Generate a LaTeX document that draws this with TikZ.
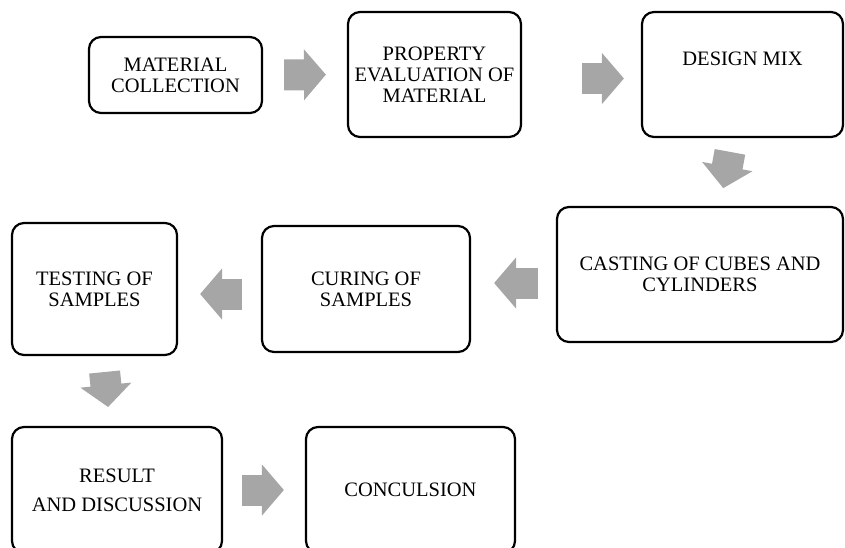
\documentclass[tikz,border=0pt]{standalone}
\usepackage{fontspec}
\setmainfont{Liberation Serif}
\usepackage{tikz}
\usetikzlibrary{calc,arrows.meta,positioning}

\definecolor{flowgray}{RGB}{166,166,166}
\tikzset{
	box/.style={draw, line width=2.2pt, rounded corners=12pt, align=center, inner sep=0pt, font=\fontsize{20.5}{21}\selectfont},
	txt/.style={align=center, inner sep=0pt, font=\fontsize{20.5}{21}\selectfont},
	flow/.style={line width=31pt, color=flowgray, -{Triangle[length=22pt,width=50pt]}}
}

\begin{document}
\begin{tikzpicture}[x=1pt,y=-1pt]
	\useasboundingbox (0,0) rectangle (845,547);
	\clip (0,0) rectangle (845,547);
	
	% top row
	\node (mat) at (175.5,75) [box, minimum width=173pt, minimum height=76pt] {MATERIAL\\COLLECTION};
	\node (prop) at (434.5,74.5) [box, minimum width=173pt, minimum height=125pt] {PROPERTY\\EVALUATION OF\\MATERIAL};
	\node (design) at (742.5,74.5) [box, minimum width=201pt, minimum height=125pt] {};
	\node (designtxt) at (design.center) [txt, yshift=15.5pt] {DESIGN MIX};
	
	% middle row
	\node (casting) at (700,274.5) [box, minimum width=286pt, minimum height=135pt] {CASTING OF CUBES AND\\CYLINDERS};
	\node (curing) at (366,289) [box, minimum width=208pt, minimum height=126pt] {CURING OF\\SAMPLES};
	\node (testing) at (94.5,289) [box, minimum width=165pt, minimum height=132pt] {TESTING OF\\SAMPLES};
	
	% bottom row
	\node (result) at (117,490) [box, minimum width=210pt, minimum height=126pt] {RESULT\\[8pt]AND DISCUSSION};
	\node (concl) at (410.5,490) [box, minimum width=209pt, minimum height=126pt] {CONCULSION};
	
	
	\draw[flow, shorten <=21pt, shorten >=21pt] (mat.east) -- (prop.west);
	\draw[flow, shorten <=60pt, shorten >=17pt] ([yshift=-4pt]prop.east) -- ([yshift=-4pt]design.west);
	\draw[flow, shorten <=14pt, shorten >=18pt] ([xshift=-10pt]design.south) -- ([xshift=20pt]casting.north);
	\draw[flow, shorten <=18pt, shorten >=23pt] ([yshift=-8.5pt]casting.west) -- ([yshift=6pt]curing.east);
	\draw[flow, shorten <=19pt, shorten >=22pt] ([yshift=-5pt]curing.west) -- ([yshift=-5pt]testing.east);
	\draw[flow, shorten <=16pt, shorten >=19pt] ([xshift=8.5pt]testing.south) -- ([xshift=-7pt]result.north);
	\draw[flow, shorten <=19pt, shorten >=21pt] (result.east) -- (concl.west);
\end{tikzpicture}
\end{document}
